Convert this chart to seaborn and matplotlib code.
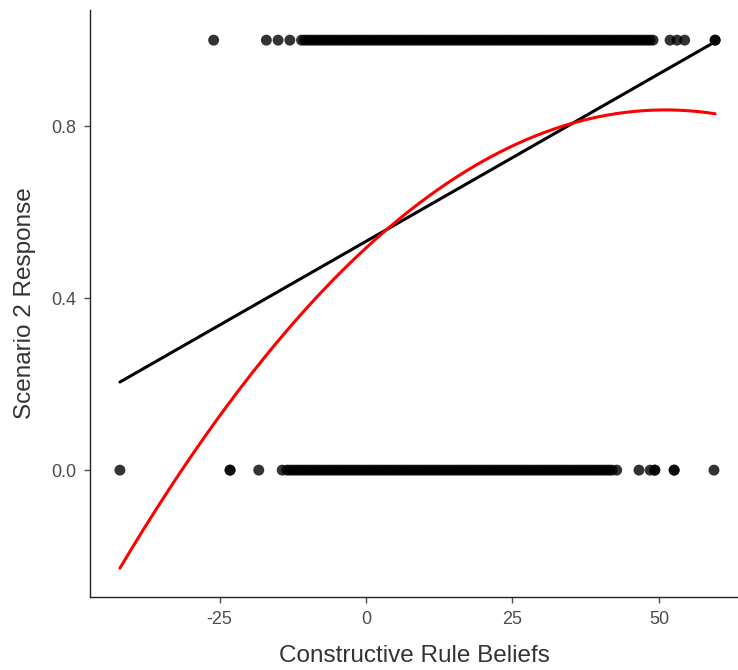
import numpy as np
import pandas as pd
import matplotlib
matplotlib.use("Agg")
import matplotlib.pyplot as plt
import seaborn as sns

# responses coded 1 (top row) and 0 (bottom row), x = constructive rule beliefs
beliefs_yes = [-26, -17, -15, -13,
               -11, -10.5, -10, -9.5, -9, -8.5, -8, -7.5, -7, -6.5, -6, -5.5,
               -5, -4.5, -4, -3.5, -3, -2.5, -2, -1.5, -1, -0.5, 0, 0.5, 1,
               1.5, 2, 2.5, 3, 3.5, 4, 4.5, 5, 5.5, 6, 6.5, 7, 7.5, 8, 8.5,
               9, 9.5, 10, 10.5, 11, 11.5, 12, 12.5, 13, 13.5, 14, 14.5, 15,
               15.5, 16, 16.5, 17, 17.5, 18, 18.5, 19, 19.5, 20, 20.5, 21,
               21.5, 22, 22.5, 23, 23.5, 24, 24.5, 25, 25.5, 26, 26.5, 27,
               27.5, 28, 28.5, 29, 29.5, 30, 30.5, 31, 31.5, 32, 32.5, 33,
               33.5, 34, 34.5, 35, 35.5, 36, 36.5, 37, 37.5, 38, 38.5, 39,
               39.5, 40, 40.5, 41, 41.5, 42, 42.5, 43, 43.5, 44, 44.5, 45,
               45.5, 46, 46.5, 47, 47.5, 48, 48.5, 49,
               51.9, 53.1, 54.4, 59.6, 59.6]
beliefs_no = [-42, -23.2, -23.2, -18.3,
              -14.3, -13.5, -13, -12.5, -12, -11.5, -11, -10.5, -10, -9.5,
              -9, -8.5, -8, -7.5, -7, -6.5, -6, -5.5, -5, -4.5, -4, -3.5, -3,
              -2.5, -2, -1.5, -1, -0.5, 0, 0.5, 1, 1.5, 2, 2.5, 3, 3.5, 4,
              4.5, 5, 5.5, 6, 6.5, 7, 7.5, 8, 8.5, 9, 9.5, 10, 10.5, 11, 11.5,
              12, 12.5, 13, 13.5, 14, 14.5, 15, 15.5, 16, 16.5, 17, 17.5, 18,
              18.5, 19, 19.5, 20, 20.5, 21, 21.5, 22, 22.5, 23, 23.5, 24,
              24.5, 25, 25.5, 26, 26.5, 27, 27.5, 28, 28.5, 29, 29.5, 30,
              30.5, 31, 31.5, 32, 32.5, 33, 33.5, 34, 34.5, 35, 35.5, 36,
              36.5, 37, 37.5, 38, 38.5, 39, 39.5, 40, 40.5, 41, 41.5, 42,
              42.8,
              46.6, 48.5, 49.3, 49.3, 52.6, 52.6, 59.4]

# fitted models
linear_coef = [0.532, 0.00779]                  # intercept, slope
quad_coef = [0.5167, 0.012566, -0.00012297]     # c0, c1, c2

df = pd.DataFrame({
    "belief": beliefs_yes + beliefs_no,
    "response": [1] * len(beliefs_yes) + [0] * len(beliefs_no),
})

sns.set_style("ticks")
plt.rcParams["font.family"] = ["Liberation Sans", "DejaVu Sans"]

fig = plt.figure(figsize=(7.38, 6.7), dpi=100)
ax = fig.add_axes([0.122, 0.109, 0.878, 0.876])

sns.scatterplot(data=df, x="belief", y="response", color="black", alpha=0.8,
                s=62, edgecolor="none", ax=ax, zorder=2)

xmin, xmax = min(df["belief"]), max(df["belief"])
xs = np.linspace(xmin, xmax, 200)
ax.plot(xs, linear_coef[0] + linear_coef[1] * xs, color="black", lw=2.2, zorder=3)
ax.plot(xs, quad_coef[0] + quad_coef[1] * xs + quad_coef[2] * xs ** 2,
        color="red", lw=2.2, zorder=3)

ax.set_xlim(-47.1, 63.5)
ax.set_ylim(-0.295, 1.07)
ax.set_xticks([-25, 0, 25, 50])
ax.set_xticklabels(["-25", "0", "25", "50"])
ax.set_yticks([0.0, 0.4, 0.8])
ax.set_yticklabels(["0.0", "0.4", "0.8"])
ax.tick_params(colors="#4D4D4D", labelsize=13, length=4, width=1, pad=6)
for s in ["left", "bottom"]:
    ax.spines[s].set_color("#222222")
    ax.spines[s].set_linewidth(1.0)
sns.despine(ax=ax)

ax.set_xlabel("Constructive Rule Beliefs", fontsize=17.5, color="#333333", labelpad=12)
ax.set_ylabel("Scenario 2 Response", fontsize=17.5, color="#333333", labelpad=11)

fig.savefig("out.png", dpi=100)
